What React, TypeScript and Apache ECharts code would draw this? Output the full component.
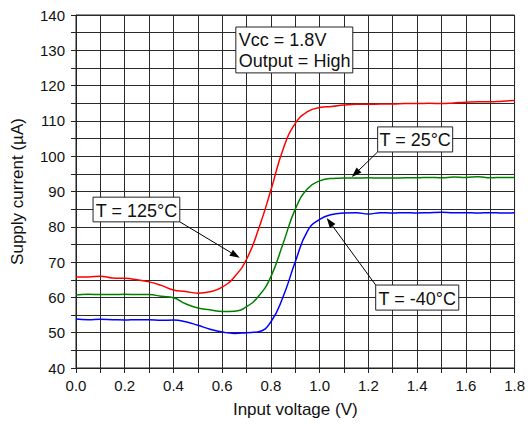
import React, { useEffect, useRef } from 'react';
import * as echarts from 'echarts';

// Input voltage (V), sampled every 0.05 V
const voltage = [
  0.0, 0.05, 0.1, 0.15, 0.2, 0.25, 0.3, 0.35, 0.4, 0.45, 0.5, 0.55, 0.6, 0.65, 0.7, 0.75, 0.8, 0.85, 0.9,
  0.95, 1.0, 1.05, 1.1, 1.15, 1.2, 1.25, 1.3, 1.35, 1.4, 1.45, 1.5, 1.55, 1.6, 1.65, 1.7, 1.75, 1.8,
];

// Supply current (µA) at T = 125°C
const current125 = [
  65.8, 65.8, 66.0, 65.5, 65.4, 65.0, 64.4, 63.4, 62.1, 61.7, 61.2, 61.6, 62.9, 65.8, 70.8, 79.5, 90.4, 102.0, 109.3,
  112.6, 113.8, 114.1, 114.5, 114.7, 114.7, 114.8, 114.8, 114.9, 114.9, 115.0, 114.9, 115.1, 115.3, 115.4, 115.4, 115.6, 115.8,
];

// Supply current (µA) at T = 25°C
const current25 = [
  60.7, 60.9, 60.8, 60.8, 60.9, 60.8, 60.8, 60.3, 59.9, 58.2, 57.0, 56.5, 56.0, 56.1, 57.4, 60.4, 65.9, 75.3, 85.0,
  90.8, 93.0, 93.7, 93.8, 93.8, 93.9, 93.8, 93.8, 93.9, 93.9, 94.0, 93.9, 94.1, 94.0, 94.2, 93.9, 94.0, 94.0,
];

// Supply current (µA) at T = -40°C
const currentM40 = [
  53.9, 53.7, 53.8, 53.7, 53.6, 53.7, 53.7, 53.5, 53.6, 53.1, 52.1, 51.0, 50.2, 49.8, 50.0, 50.3, 53.1, 60.2, 70.1,
  78.8, 82.1, 83.5, 83.9, 84.0, 83.6, 84.0, 83.9, 84.0, 83.9, 84.0, 84.1, 84.0, 84.0, 83.9, 84.0, 83.9, 84.0,
];

const seriesNames = ['T = 125°C', 'T = 25°C', 'T = -40°C'];
const seriesColors = ['#ff0000', '#008000', '#0000ff'];

// Callout boxes: corners in data space, arrow from a box corner to a point near its curve
const callouts = [
  { text: 'T = 125°C', from: [0.07, 88.4], to: [0.426, 81.4], tail: [0.426, 81.4], tip: [0.672, 71.2] },
  { text: 'T = 25°C', from: [1.238, 108.3], to: [1.546, 101.2], tail: [1.238, 101.2], tip: [1.132, 94.1] },
  { text: 'T = -40°C', from: [1.23, 63.5], to: [1.571, 56.4], tail: [1.23, 63.5], tip: [1.029, 82.5] },
];
const conditionLines = ['Vcc = 1.8V', 'Output = High'];
const conditionBox = { from: [0.656, 136.6], to: [1.136, 123.6] };

const FONT = '"Liberation Sans", Arial, sans-serif';

export default function App() {
  const ref = useRef<HTMLDivElement>(null);

  useEffect(() => {
    const chart = echarts.init(ref.current!, null, { renderer: 'svg' });
    const sets = [current125, current25, currentM40];

    chart.setOption({
      animation: false,
      backgroundColor: '#ffffff',
      grid: { left: 76, right: 13, top: 15, bottom: 57, show: true, borderColor: '#222', borderWidth: 1 },
      xAxis: {
        type: 'value',
        min: 0,
        max: 1.8,
        interval: 0.1,
        name: 'Input voltage (V)',
        nameLocation: 'middle',
        nameGap: 33,
        nameTextStyle: { fontFamily: FONT, fontSize: 17, color: '#111', verticalAlign: 'top' },
        axisLine: { show: true, lineStyle: { color: '#222', width: 1 } },
        axisTick: { show: true, length: 5, inside: false, lineStyle: { color: '#222' } },
        axisLabel: {
          margin: 10,
          fontFamily: FONT,
          fontSize: 15,
          color: '#111',
          showMinLabel: true,
          showMaxLabel: true,
          formatter: (v: number) => (Math.round(v * 10) % 2 === 0 ? v.toFixed(1) : ''),
        },
        splitLine: { show: true, lineStyle: { color: '#2a2a2a', width: 1 } },
      },
      yAxis: {
        type: 'value',
        min: 40,
        max: 140,
        interval: 5,
        name: 'Supply current (µA)',
        nameLocation: 'middle',
        nameGap: 50,
        nameTextStyle: { fontFamily: FONT, fontSize: 17, color: '#111' },
        axisLine: { show: true, lineStyle: { color: '#222', width: 1 } },
        axisTick: { show: true, length: 5, inside: false, lineStyle: { color: '#222' } },
        axisLabel: {
          margin: 11,
          fontFamily: FONT,
          fontSize: 15,
          color: '#111',
          formatter: (v: number) => (Math.round(v) % 10 === 0 ? String(Math.round(v)) : ''),
        },
        splitLine: { show: true, lineStyle: { color: '#2a2a2a', width: 1 } },
      },
      series: sets.map((vals, k) => ({
        name: seriesNames[k],
        type: 'line',
        data: voltage.map((v, i) => [v, vals[i]]),
        showSymbol: false,
        smooth: 0.5,
        lineStyle: { color: seriesColors[k], width: 1.5 },
        z: 3,
      })),
    });

    const px = (p: number[]) => chart.convertToPixel({ gridIndex: 0 }, p) as number[];
    const graphics: any[] = [];

    const arrow = (tailD: number[], tipD: number[]) => {
      const a = px(tailD);
      const b = px(tipD);
      const dx = b[0] - a[0];
      const dy = b[1] - a[1];
      const len = Math.hypot(dx, dy);
      const ux = dx / len;
      const uy = dy / len;
      const headLen = 10;
      const headW = 3.5;
      const bx = b[0] - ux * headLen;
      const by = b[1] - uy * headLen;
      graphics.push({
        type: 'line',
        shape: { x1: a[0], y1: a[1], x2: bx, y2: by },
        style: { stroke: '#000', lineWidth: 1 },
        z: 10,
      });
      graphics.push({
        type: 'polygon',
        shape: {
          points: [
            [b[0], b[1]],
            [bx - uy * headW, by + ux * headW],
            [bx + uy * headW, by - ux * headW],
          ],
        },
        style: { fill: '#000' },
        z: 10,
      });
    };

    const box = (fromD: number[], toD: number[]) => {
      const p1 = px(fromD);
      const p2 = px(toD);
      graphics.push({
        type: 'rect',
        shape: { x: p1[0], y: p1[1], width: p2[0] - p1[0], height: p2[1] - p1[1] },
        style: { fill: '#fff', stroke: '#222', lineWidth: 1 },
        z: 11,
      });
      return [p1, p2];
    };

    callouts.forEach((c) => {
      arrow(c.tail, c.tip);
      const [p1, p2] = box(c.from, c.to);
      graphics.push({
        type: 'text',
        x: (p1[0] + p2[0]) / 2,
        y: (p1[1] + p2[1]) / 2 + 1,
        style: { text: c.text, font: `18px ${FONT}`, fill: '#111', align: 'center', verticalAlign: 'middle' },
        z: 12,
      });
    });

    const [q1] = box(conditionBox.from, conditionBox.to);
    conditionLines.forEach((t, i) => {
      graphics.push({
        type: 'text',
        x: q1[0] + 3,
        y: q1[1] + 13 + i * 20.5,
        style: { text: t, font: `18px ${FONT}`, fill: '#111', align: 'left', verticalAlign: 'middle' },
        z: 12,
      });
    });

    chart.setOption({ graphic: graphics });

    return () => chart.dispose();
  }, []);

  return <div ref={ref} style={{ position: 'fixed', left: 0, top: 0, width: 528, height: 425 }} />;
}
